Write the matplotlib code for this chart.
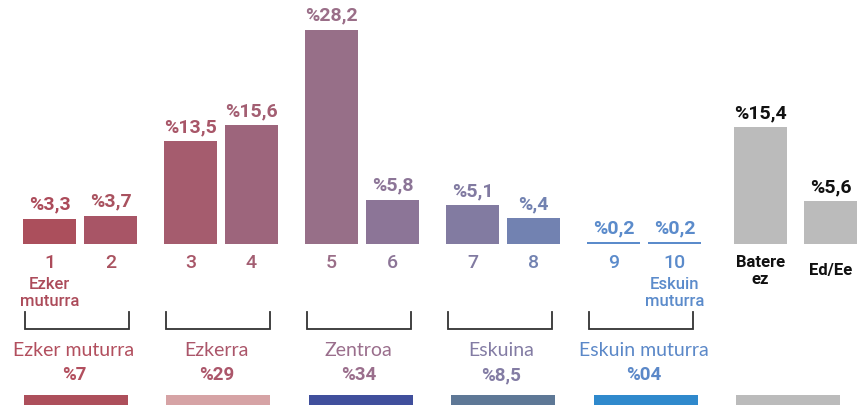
import matplotlib.pyplot as plt

# bar data
bar_ticks = ['1', '2', '3', '4', '5', '6', '7', '8', '9', '10', 'Batere\nez', 'Ed/Ee']
bar_values = [3.3, 3.7, 13.5, 15.6, 28.2, 5.8, 5.1, 3.4, 0.2, 0.2, 15.4, 5.6]
bar_labels = ['%3,3', '%3,7', '%13,5', '%15,6', '%28,2', '%5,8', '%5,1', '%,4',
              '%0,2', '%0,2', '%15,4', '%5,6']
bar_colors = ['#ab4f5c', '#a85566', '#a55c6e', '#9d657c', '#976f88', '#8c7597',
              '#827ba1', '#7282b1', '#5b8bcb', '#5b8bcb', '#bbbbbb', '#bbbbbb']
text_colors = ['#ac4b5a', '#a9525f', '#a85668', '#a35e72', '#9a6e88', '#8c7597',
               '#817aa1', '#7282b1', '#5b8bcb', '#5b8bcb', '#111111', '#111111']

# groups
group_names = ['Ezker muturra', 'Ezkerra', 'Zentroa', 'Eskuina', 'Eskuin muturra']
group_shares = ['%7', '%29', '%34', '%8,5', '%04']
group_text_colors = ['#b24f5e', '#ab566a', '#9a6e8c', '#837ca4', '#5b88c8']
legend_colors = ['#ad4f5b', '#d6a3a5', '#404f9c', '#5e7896', '#2f89cc', '#bbbbbb']

W, H = 867, 408
BASE = 244      # baseline, pixels from the top
SCALE = 7.6     # pixels per percentage point


def py(y):
    # pixel row (from top) -> data y
    return (BASE - y) / SCALE


fig = plt.figure(figsize=(W / 100, H / 100), dpi=100)
ax = fig.add_axes([0, 0, 1, 1])
ax.set_xlim(0, W)
ax.set_ylim(py(H), py(0))
ax.axis('off')

# bar centres: pairs of bars every 141 px, then the two grey bars
xs = []
for i in range(5):
    xs += [49.5 + 141 * i, 110.5 + 141 * i]
xs += [760.5, 830.5]

bars = ax.bar(xs, bar_values, width=53, color=bar_colors, linewidth=0)
for i, b in enumerate(bars):
    h = max(bar_values[i], 0.3)
    b.set_height(h)
    gray = i >= 10
    ax.text(xs[i], bar_values[i] + 14 / SCALE, bar_labels[i], ha='center', va='center',
            fontsize=14, color=text_colors[i], family='Roboto', weight='bold')
    if gray:
        ax.text(xs[i], py(271), bar_ticks[i], ha='center', va='center', fontsize=12,
                color='#111111', family='Roboto', weight='bold', linespacing=1.2)
    else:
        ax.text(xs[i], py(263), bar_ticks[i], ha='center', va='center', fontsize=14,
                color=text_colors[i], family='Roboto', weight='medium')

ax.text(xs[0], py(293), 'Ezker\nmuturra', ha='center', va='center', fontsize=12,
        color=text_colors[0], family='Roboto', weight='medium', linespacing=1.1)
ax.text(xs[9], py(293), 'Eskuin\nmuturra', ha='center', va='center', fontsize=12,
        color=text_colors[9], family='Roboto', weight='medium', linespacing=1.1)

# brackets under each pair
for i in range(5):
    x0 = xs[2 * i] - 25
    x1 = x0 + 104
    ax.plot([x0, x0, x1, x1], [py(312), py(329), py(329), py(312)],
            color='#333333', lw=1.3, solid_joinstyle='miter')

# group names, shares and colour key
for i in range(6):
    lx = 24 + 142.4 * i
    ax.bar(lx + 52, py(395) - py(405), width=104, bottom=py(405),
           color=legend_colors[i], linewidth=0)
    if i < 5:
        ax.text(lx + 50, py(350), group_names[i], ha='center', va='center',
                fontsize=14, color=group_text_colors[i], family='Lato', weight='normal')
        ax.text(lx + 50, py(375), group_shares[i], ha='center', va='center',
                fontsize=13.5, color=group_text_colors[i], family='Roboto', weight='bold')

fig.savefig('out.png', dpi=100)
